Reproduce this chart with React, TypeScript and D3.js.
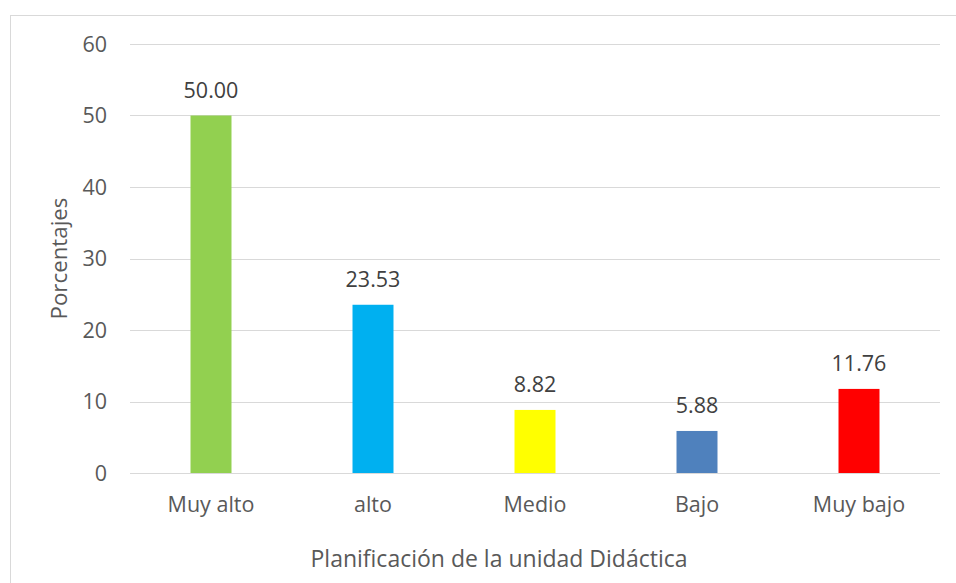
import React from "react";
import * as d3 from "d3";

// Planificación de la unidad Didáctica — porcentajes por nivel
const categories = ["Muy alto", "alto", "Medio", "Bajo", "Muy bajo"];
const values = [50.0, 23.53, 8.82, 5.88, 11.76];
const barColors = ["#92D050", "#00B0F0", "#FFFF00", "#4F81BD", "#FF0000"];
const yTicks = [0, 10, 20, 30, 40, 50, 60];
const xTitle = "Planificación de la unidad Didáctica";
const yTitle = "Porcentajes";

const W = 956;
const H = 583;
const FONT = "'Open Sans', 'DejaVu Sans', sans-serif";

export default function App() {
  const plot = { left: 130, right: 940, top: 44, bottom: 473 };

  const x = d3
    .scaleBand<string>()
    .domain(categories)
    .range([plot.left, plot.right])
    .paddingInner(0.747)
    .paddingOuter(0.3735);

  const y = d3.scaleLinear().domain([0, 60]).range([plot.bottom, plot.top]);

  return (
    <svg
      width={W}
      height={H}
      style={{ position: "absolute", left: 0, top: 0, display: "block", background: "#fff" }}
      fontFamily={FONT}
    >
      {/* chart frame */}
      <rect x={10.5} y={15.5} width={W + 10} height={H + 10} fill="#fff" stroke="#D9D9D9" strokeWidth={1} />

      {/* gridlines and y tick labels */}
      {yTicks.map((t) => (
        <g key={t}>
          <line
            x1={plot.left}
            x2={plot.right}
            y1={Math.round(y(t)) + 0.5}
            y2={Math.round(y(t)) + 0.5}
            stroke="#D9D9D9"
            strokeWidth={1}
          />
          <text
            x={107}
            y={y(t)}
            dy="0.35em"
            textAnchor="end"
            fontSize={21.5}
            fill="#595959"
          >
            {t}
          </text>
        </g>
      ))}

      {/* bars */}
      {categories.map((c, i) => (
        <rect
          key={c}
          x={x(c)}
          y={y(values[i])}
          width={x.bandwidth()}
          height={y(0) - y(values[i])}
          fill={barColors[i]}
        />
      ))}

      {/* value labels */}
      {categories.map((c, i) => (
        <text
          key={c + "-v"}
          x={(x(c) ?? 0) + x.bandwidth() / 2}
          y={y(values[i]) - 18}
          textAnchor="middle"
          fontSize={21.5}
          fill="#404040"
        >
          {values[i].toFixed(2)}
        </text>
      ))}

      {/* category labels */}
      {categories.map((c) => (
        <text
          key={c + "-c"}
          x={(x(c) ?? 0) + x.bandwidth() / 2}
          y={512}
          textAnchor="middle"
          fontSize={21.5}
          fill="#595959"
        >
          {c}
        </text>
      ))}

      {/* axis titles */}
      <text x={499} y={567} textAnchor="middle" fontSize={23} fill="#595959">
        {xTitle}
      </text>
      <text
        transform={`translate(67,258.5) rotate(-90)`}
        textAnchor="middle"
        fontSize={22.3}
        fill="#595959"
      >
        {yTitle}
      </text>
    </svg>
  );
}
